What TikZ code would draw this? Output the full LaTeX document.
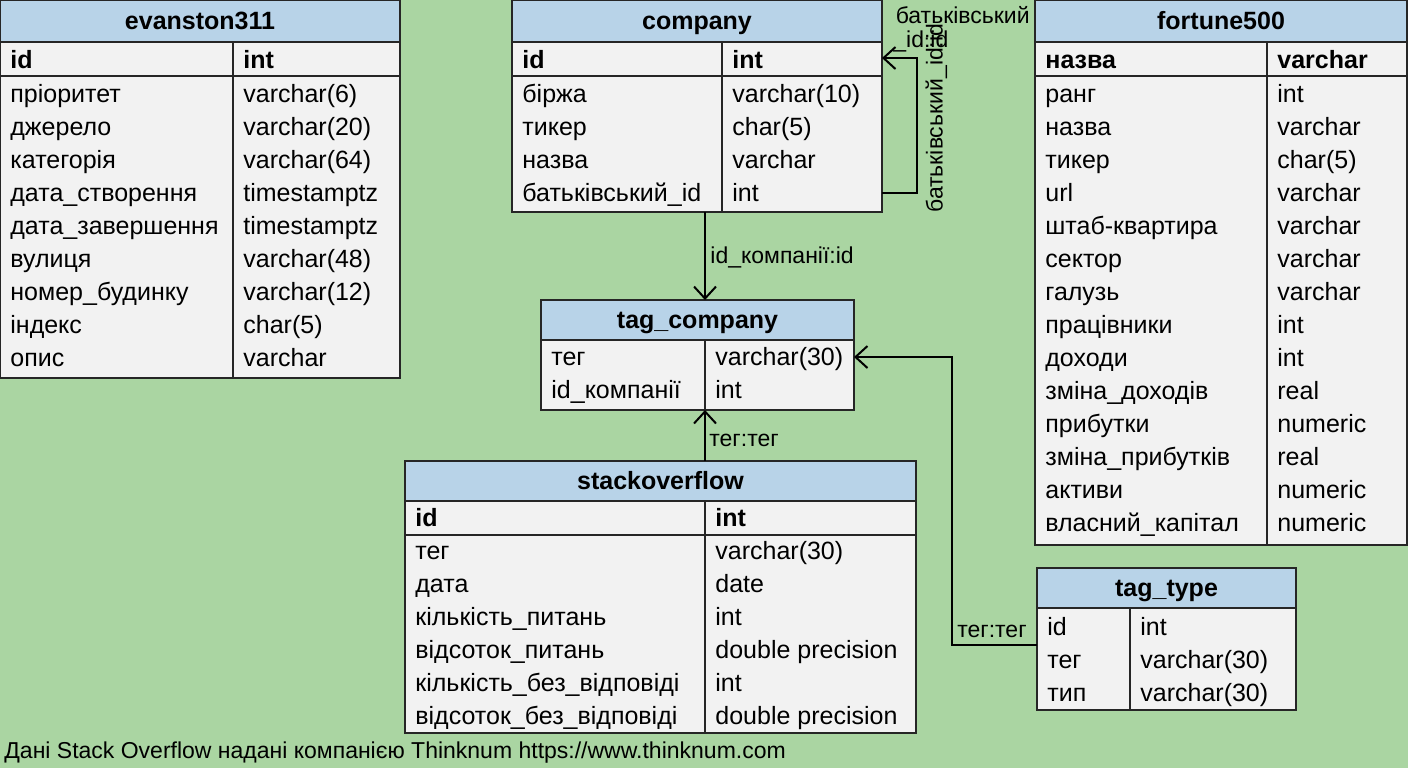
\documentclass[tikz,border=0pt]{standalone}
\usepackage{fontspec}
\setmainfont{Liberation Sans}
\usetikzlibrary{arrows.meta}
\definecolor{bg}{HTML}{AAD5A2}
\definecolor{hd}{HTML}{B8D3E8}
\definecolor{bd}{HTML}{F2F2F2}
\tikzset{
 cell/.style={anchor=west,inner sep=0pt,text height=9pt,text depth=3pt,font=\fontsize{12.5}{14}\selectfont},
 bcell/.style={cell,font=\fontsize{12.5}{14}\selectfont\bfseries},
 ttl/.style={inner sep=0pt,text height=9pt,text depth=3pt,font=\fontsize{12.5}{14}\selectfont\bfseries},
 lbl/.style={inner sep=0pt,text height=8pt,text depth=2.5pt,font=\fontsize{11.5}{13}\selectfont},
 line/.style={draw=black!85,line width=1pt},
 conn/.style={line width=1pt,-{Straight Barb[length=6pt,width=11pt,line width=1pt]}},
}
% name, title, x1, x2, ytop, ytitle, ybottom, divx
\newcommand\mktab[8]{%
 \fill[bd] (#3,#5) rectangle (#4,#7);
 \fill[hd] (#3,#5) rectangle (#4,#6);
 \draw[line] (#3,#5) rectangle (#4,#7);
 \draw[line] (#3,#6)--(#4,#6);
 \draw[line] (#8,#6)--(#8,#7);
 \node[ttl] (#1) at ({(#3+#4)/2},{(#5+#6)/2+2}) {#2};
}
\newcommand\rows[5]{% x1, divx, ystart, style, list
 \foreach \a/\b [count=\i] in {#5} {
  \node[#4] at (#1+10,#3+\i*33-31) {\a};
  \node[#4] at (#2+10,#3+\i*33-31) {\b};
 }
}
\begin{document}
\begin{tikzpicture}[x=0.5pt,y=-0.5pt]
\fill[bg] (0,0) rectangle (1408,768);
\useasboundingbox (0,0) rectangle (1408,768);
% evanston311
\mktab{ev}{evanston311}{0}{400}{0}{42}{378}{233}
\draw[line] (0,76)--(400,76);
\rows{0}{233}{60}{bcell}{id/int}
\rows{0}{233}{94}{cell}{пріоритет/varchar(6),джерело/varchar(20),категорія/varchar(64),дата\_створення/timestamptz,дата\_завершення/timestamptz,вулиця/varchar(48),номер\_будинку/varchar(12),індекс/char(5),опис/varchar}
% company
\mktab{co}{company}{512}{882}{0}{42}{212}{722}
\draw[line] (512,76)--(882,76);
\rows{512}{722}{60}{bcell}{id/int}
\rows{512}{722}{94}{cell}{біржа/varchar(10),тикер/char(5),назва/varchar,батьківський\_id/int}
% fortune500
\mktab{fo}{fortune500}{1035}{1407}{0}{42}{545}{1267}
\draw[line] (1035,76)--(1407,76);
\rows{1035}{1267}{60}{bcell}{назва/varchar}
\rows{1035}{1267}{94}{cell}{ранг/int,назва/varchar,тикер/char(5),url/varchar,штаб-квартира/varchar,сектор/varchar,галузь/varchar,працівники/int,доходи/int,зміна\_доходів/real,прибутки/numeric,зміна\_прибутків/real,активи/numeric,власний\_капітал/numeric}
% tag_company
\mktab{tc}{tag\_company}{541}{854}{300}{340}{410}{705}
\rows{541}{705}{357}{cell}{тег/varchar(30),id\_компанії/int}
% stackoverflow
\mktab{so}{stackoverflow}{405}{916}{461}{501}{733}{705}
\draw[line] (405,535)--(916,535);
\rows{405}{705}{518}{bcell}{id/int}
\rows{405}{705}{551}{cell}{тег/varchar(30),дата/date,кількість\_питань/int,відсоток\_питань/double precision,кількість\_без\_відповіді/int,відсоток\_без\_відповіді/double precision}
% tag_type
\mktab{tt}{tag\_type}{1037}{1296}{568}{608}{710}{1130}
\rows{1037}{1130}{627}{cell}{id/int,тег/varchar(30),тип/varchar(30)}
% connector endpoints
\coordinate (coB) at (705,212);
\coordinate (tcT) at (705,300);
\coordinate (tcB) at (705,410);
\coordinate (soT) at (705,461);
\coordinate (coP) at (882,193);
\coordinate (coI) at (882,58);
\coordinate (ttL) at (1037,645);
\coordinate (tcR) at (854,357);
\draw[conn] (coB)--(tcT);
\node[lbl,anchor=west] at (710,258) {id\_компанії:id};
\draw[conn] (soT)--(tcB);
\node[lbl,anchor=west] at (709,441) {тег:тег};
\draw[conn] (coP)-|(917,58)--(coI);
\node[lbl,anchor=east] at (1030,18) {батьківський};
\node[lbl,anchor=west] at (893,42) {\_id:id};
\node[lbl,rotate=90,anchor=west] at (937,213) {батьківський\_id:id};
\draw[conn] (ttL)-|(952,357)--(tcR);
\node[lbl] at (992,632) {тег:тег};
\node[lbl,anchor=west] at (4,753) {Дані Stack Overflow надані компанією Thinknum https://www.thinknum.com};
\end{tikzpicture}
\end{document}
